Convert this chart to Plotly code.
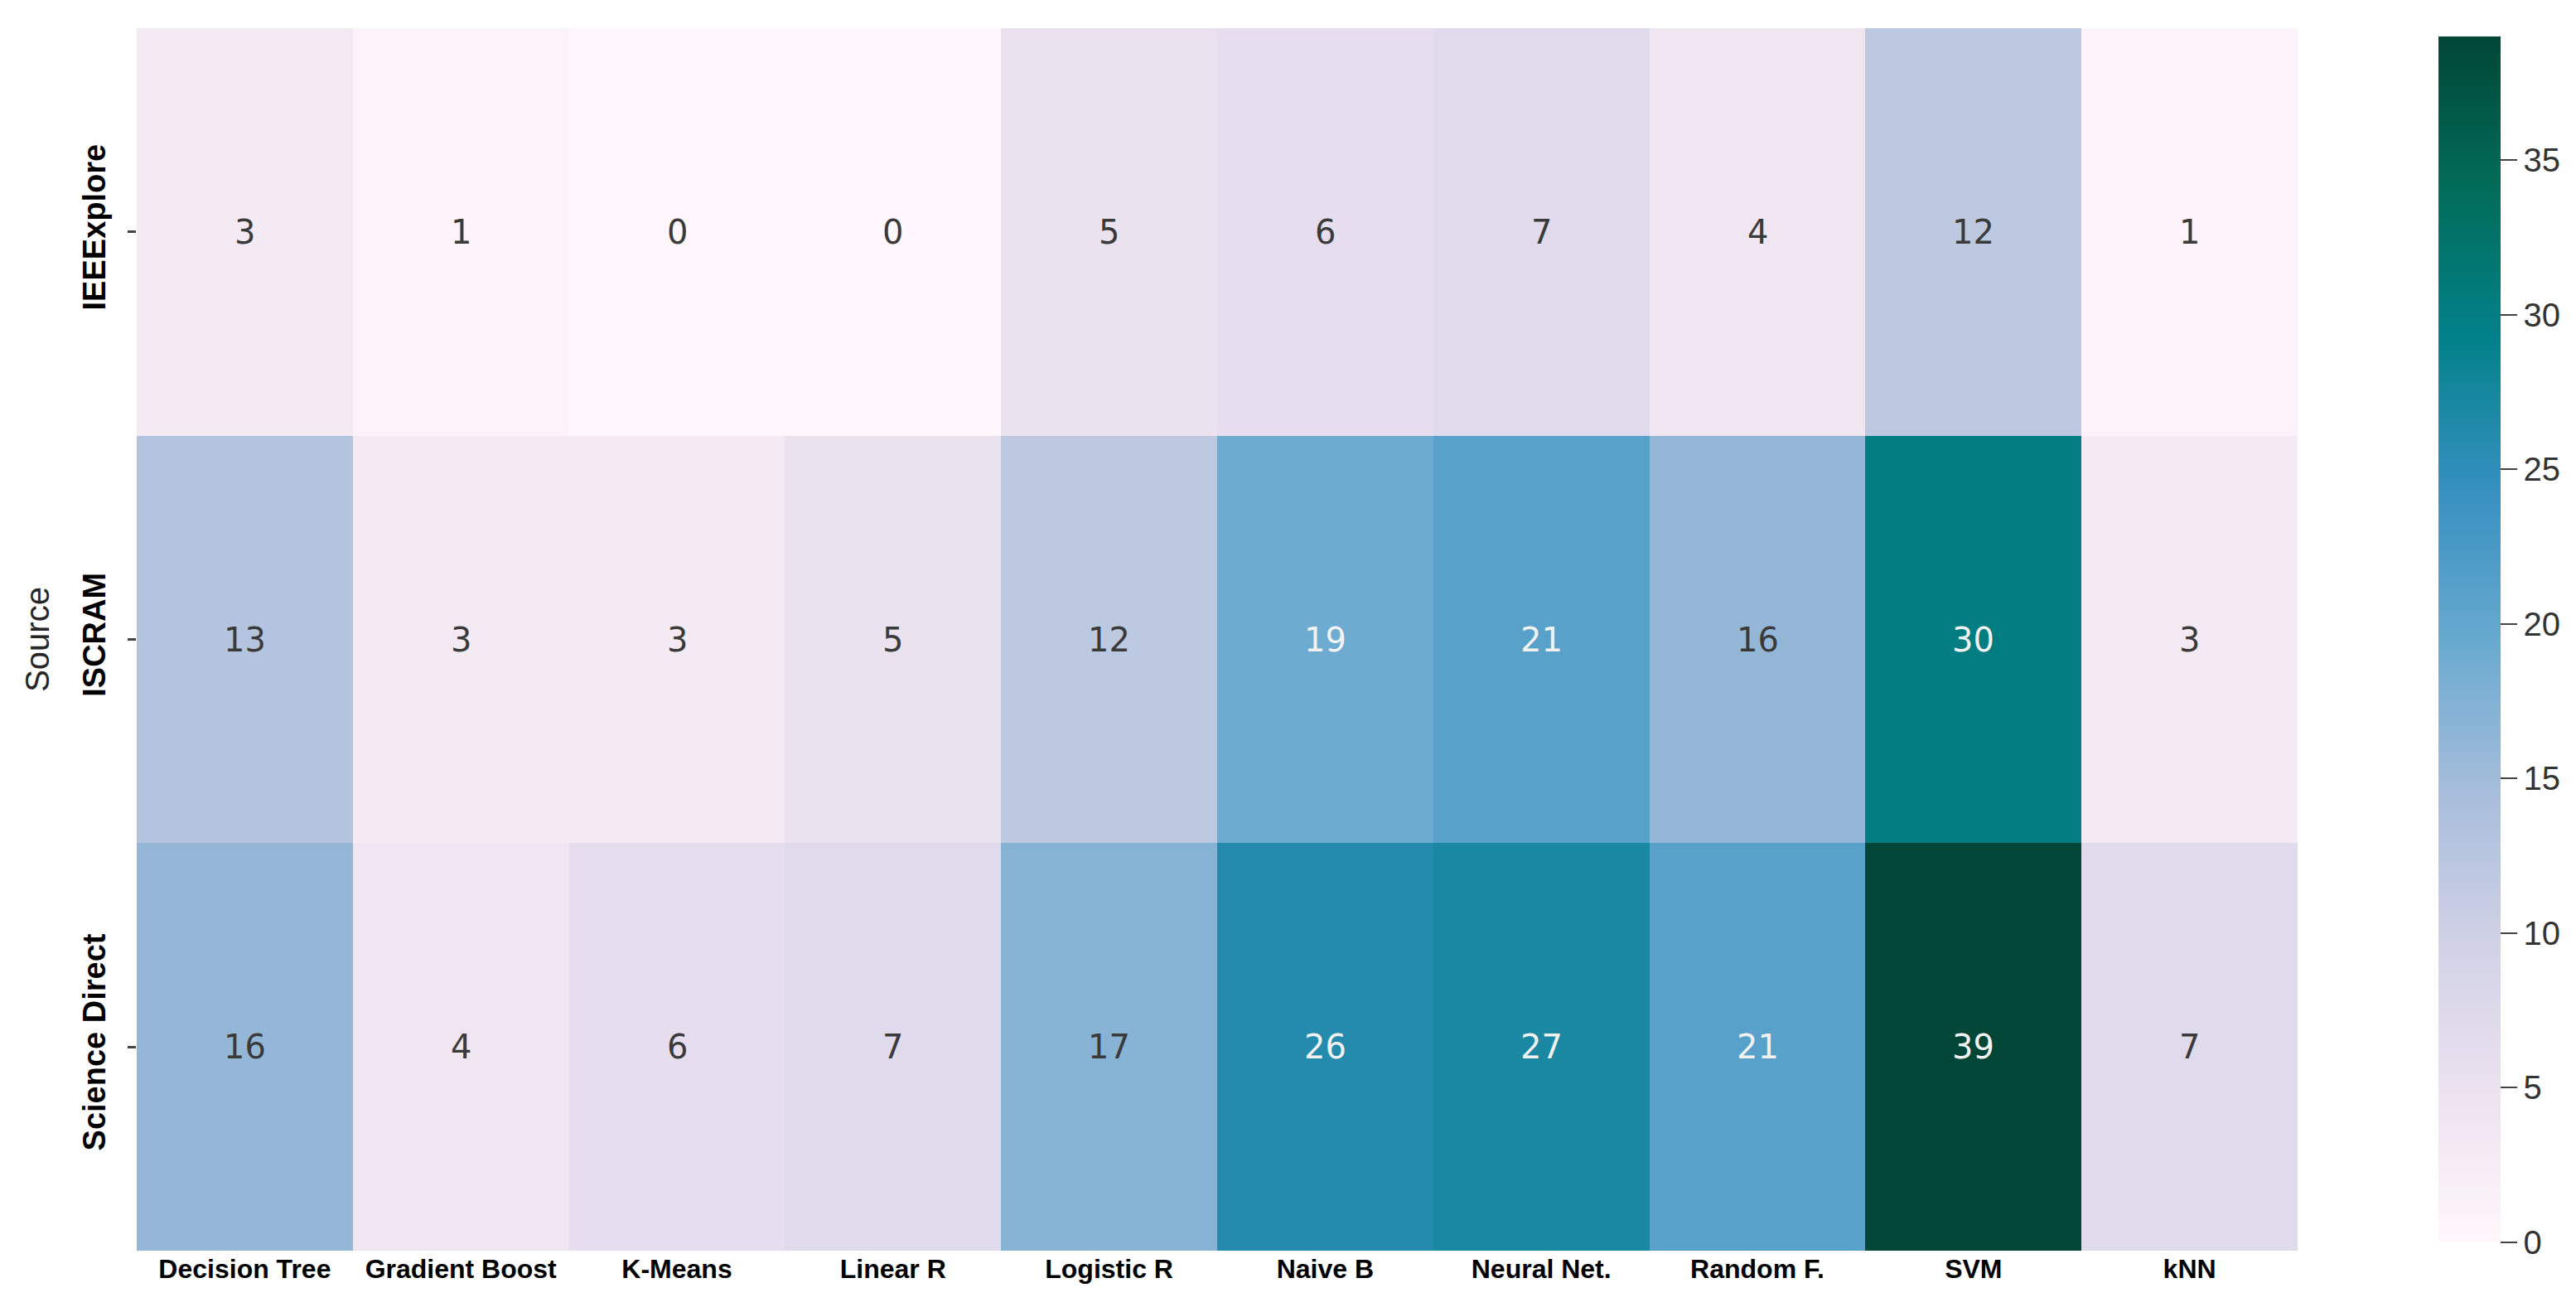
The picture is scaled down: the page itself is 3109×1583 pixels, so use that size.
import plotly.graph_objects as go

methods = ["Decision Tree", "Gradient Boost", "K-Means", "Linear R", "Logistic R",
           "Naive B", "Neural Net.", "Random F.", "SVM", "kNN"]
sources = ["IEEExplore", "ISCRAM", "Science Direct"]

ieee = [3, 1, 0, 0, 5, 6, 7, 4, 12, 1]
iscram = [13, 3, 3, 5, 12, 19, 21, 16, 30, 3]
science_direct = [16, 4, 6, 7, 17, 26, 27, 21, 39, 7]

counts = [ieee, iscram, science_direct]

fig = go.Figure(go.Heatmap(
    z=counts,
    x=methods,
    y=sources,
    colorscale="PuBuGn",
    zmin=0,
    zmax=39,
    colorbar=dict(
        xref="container",
        x=2925 / 3109,
        xanchor="left",
        thickness=75,
        len=1,
        y=0.5,
        outlinewidth=0,
        tickvals=[0, 5, 10, 15, 20, 25, 30, 35],
        ticks="outside",
        ticklen=20,
        tickwidth=2,
        tickcolor="#444",
        tickfont=dict(family="Liberation Sans", size=40, color="#333"),
    ),
))

# cell labels, light text on the dark cells like seaborn does
for r, src in enumerate(sources):
    for c, m in enumerate(methods):
        v = counts[r][c]
        fig.add_annotation(
            x=m, y=src, text=str(v), showarrow=False,
            font=dict(family="DejaVu Sans", size=40,
                      color="#f2f2f2" if v >= 19 else "#3a3a3a"),
        )

fig.update_layout(
    width=3109,
    height=1583,
    margin=dict(l=157, r=344, t=26, b=82, autoexpand=False),
    paper_bgcolor="white",
    plot_bgcolor="white",
    xaxis=dict(
        automargin=False,
        showgrid=False, zeroline=False, ticks="",
        tickfont=dict(family="Liberation Sans", size=32, color="black", weight="bold"),
    ),
    yaxis=dict(
        automargin=False,
        autorange="reversed",
        showgrid=False, zeroline=False,
        ticks="outside", ticklen=10, tickwidth=3, tickcolor="#444",
        tickangle=-90,
        ticklabelstandoff=12,
        tickfont=dict(family="Liberation Sans", size=38, color="black", weight="bold"),
        title=dict(text="Source", standoff=20,
                   font=dict(family="Liberation Sans", size=40, color="#262626")),
    ),
)

fig.write_html("out.html")
